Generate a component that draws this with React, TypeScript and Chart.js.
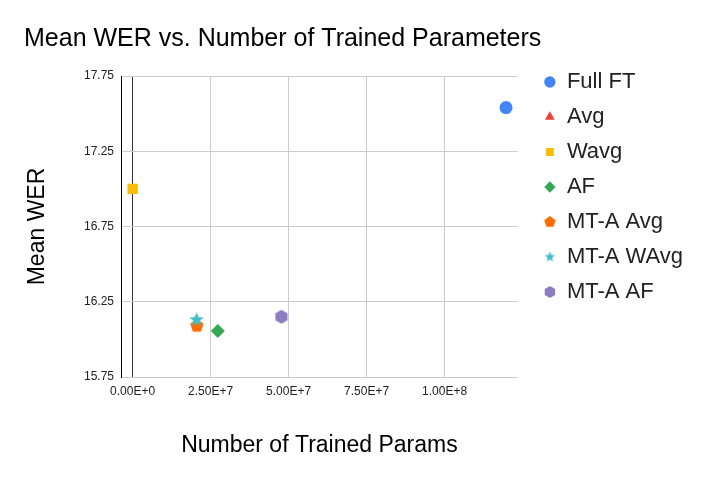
import React, { useEffect, useRef } from "react";
import { Chart, registerables } from "chart.js";

Chart.register(...registerables);

const FONT = "'Liberation Sans', Arial, sans-serif";

const seriesNames = ["Full FT", "Avg", "Wavg", "AF", "MT-A Avg", "MT-A WAvg", "MT-A AF"];
const trainedParams = [119700000, 0, 0, 27300000, 20600000, 20500000, 47700000];
const meanWer = [17.54, 17.0, 17.0, 16.055, 16.09, 16.13, 16.15];
const seriesColors = ["#4285F4", "#EA4335", "#FBBC04", "#34A853", "#FF6D01", "#46BDC6", "#8E7CC3"];
const xTicks = [0, 25000000, 50000000, 75000000, 100000000];
const yTicks = [15.75, 16.25, 16.75, 17.25, 17.75];

// pentagon / star / hexagon are not built into chart.js, so draw them on small canvases
function shapeCanvas(kind: string, r: number, color: string) {
  const size = Math.ceil(r * 2 + 2);
  const c = document.createElement("canvas");
  c.width = size;
  c.height = size;
  const ctx = c.getContext("2d")!;
  const cx = size / 2;
  const cy = size / 2;
  ctx.fillStyle = color;
  ctx.beginPath();
  if (kind === "pentagon") {
    for (let i = 0; i < 5; i++) {
      const a = -Math.PI / 2 + (i * 2 * Math.PI) / 5;
      ctx.lineTo(cx + r * Math.cos(a), cy + r * Math.sin(a));
    }
  } else if (kind === "star") {
    for (let i = 0; i < 10; i++) {
      const a = -Math.PI / 2 + (i * Math.PI) / 5;
      const rr = i % 2 === 0 ? r : r * 0.45;
      ctx.lineTo(cx + rr * Math.cos(a), cy + rr * Math.sin(a));
    }
  } else {
    for (let i = 0; i < 6; i++) {
      const a = -Math.PI / 2 + (i * Math.PI) / 3;
      ctx.lineTo(cx + r * Math.cos(a), cy + r * Math.sin(a));
    }
  }
  ctx.closePath();
  ctx.fill();
  return c;
}

const legendShift = {
  id: "legendShift",
  afterLayout(chart: any) {
    const l = chart.legend;
    if (!l) return;
    l.left += 13;
    l.right += 13;
    l.top += 58;
    l.bottom += 58;
  },
};

export default function App() {
  const canvasRef = useRef<HTMLCanvasElement | null>(null);
  const chartRef = useRef<Chart | null>(null);

  useEffect(() => {
    if (!canvasRef.current) return;

    const chartStyles: any[] = [
      "circle",
      "triangle",
      "rect",
      "rectRot",
      shapeCanvas("pentagon", 7, seriesColors[4]),
      shapeCanvas("star", 7.5, seriesColors[5]),
      shapeCanvas("hexagon", 7, seriesColors[6]),
    ];
    const legendStyles: any[] = [
      null,
      null,
      null,
      null,
      shapeCanvas("pentagon", 6, seriesColors[4]),
      shapeCanvas("star", 5.5, seriesColors[5]),
      shapeCanvas("hexagon", 6, seriesColors[6]),
    ];
    const radii = [6.5, 5, 7.3, 7, 7, 7, 7];

    const datasets = seriesNames.map((name, i) => ({
      label: name,
      data: [{ x: trainedParams[i], y: meanWer[i] }],
      backgroundColor: seriesColors[i],
      borderColor: seriesColors[i],
      borderWidth: 0,
      pointStyle: chartStyles[i],
      pointRadius: radii[i],
      pointHoverRadius: radii[i],
      order: -i,
    }));

    chartRef.current = new Chart(canvasRef.current, {
      type: "scatter",
      data: { datasets },
      plugins: [legendShift],
      options: {
        animation: false,
        responsive: true,
        maintainAspectRatio: false,
        layout: { padding: { left: 24, right: 28, top: 0, bottom: 0 } },
        plugins: {
          tooltip: { enabled: false },
          title: {
            display: true,
            text: "Mean WER vs. Number of Trained Parameters",
            align: "start",
            color: "#000",
            font: { family: FONT, size: 25, weight: "normal" },
            padding: { top: 24, bottom: 22 },
          },
          legend: {
            position: "right",
            align: "start",
            labels: {
              usePointStyle: true,
              boxWidth: 12,
              boxHeight: 8,
              padding: 13,
              color: "#222",
              font: { family: FONT, size: 22 },
              sort: (a: any, b: any) => a.datasetIndex - b.datasetIndex,
              generateLabels(chart: any) {
                const items = Chart.defaults.plugins.legend.labels.generateLabels(chart);
                items.forEach((it: any) => {
                  const s = legendStyles[it.datasetIndex];
                  if (s) it.pointStyle = s;
                });
                return items;
              },
            },
          },
        },
        scales: {
          x: {
            type: "linear",
            min: -3730000,
            max: 123500000,
            afterFit: (scale: any) => {
              scale.height = 106;
            },
            afterBuildTicks: (scale: any) => {
              scale.ticks = xTicks.map((v) => ({ value: v }));
            },
            grid: {
              color: (ctx: any) => (ctx.tick && ctx.tick.value === 0 ? "#333" : "#ccc"),
              drawTicks: false,
            },
            border: { color: "#ccc" },
            ticks: {
              padding: 7,
              color: "#222",
              font: { family: FONT, size: 12 },
              maxRotation: 0,
              callback: (v: any) => Number(v).toExponential(2).toUpperCase(),
            },
            title: {
              display: true,
              text: "Number of Trained Params",
              color: "#000",
              font: { family: FONT, size: 23 },
              padding: { top: 0, bottom: 24 },
            },
          },
          y: {
            type: "linear",
            min: 15.75,
            max: 17.75,
            afterFit: (scale: any) => {
              scale.width = 97;
            },
            afterBuildTicks: (scale: any) => {
              scale.ticks = yTicks.map((v) => ({ value: v }));
            },
            grid: { color: "#ccc", drawTicks: false },
            border: { color: "#000" },
            ticks: {
              padding: 7,
              color: "#222",
              font: { family: FONT, size: 12 },
              callback: (v: any) => Number(v).toFixed(2),
            },
            title: {
              display: true,
              text: "Mean WER",
              color: "#000",
              font: { family: FONT, size: 23 },
              padding: { top: 0, bottom: 0 },
            },
          },
        },
      },
    });

    return () => {
      if (chartRef.current) {
        chartRef.current.destroy();
        chartRef.current = null;
      }
    };
  }, []);

  return (
    <div style={{ position: "absolute", left: 0, top: 0, width: 708, height: 483, background: "#fff" }}>
      <canvas ref={canvasRef} />
    </div>
  );
}
